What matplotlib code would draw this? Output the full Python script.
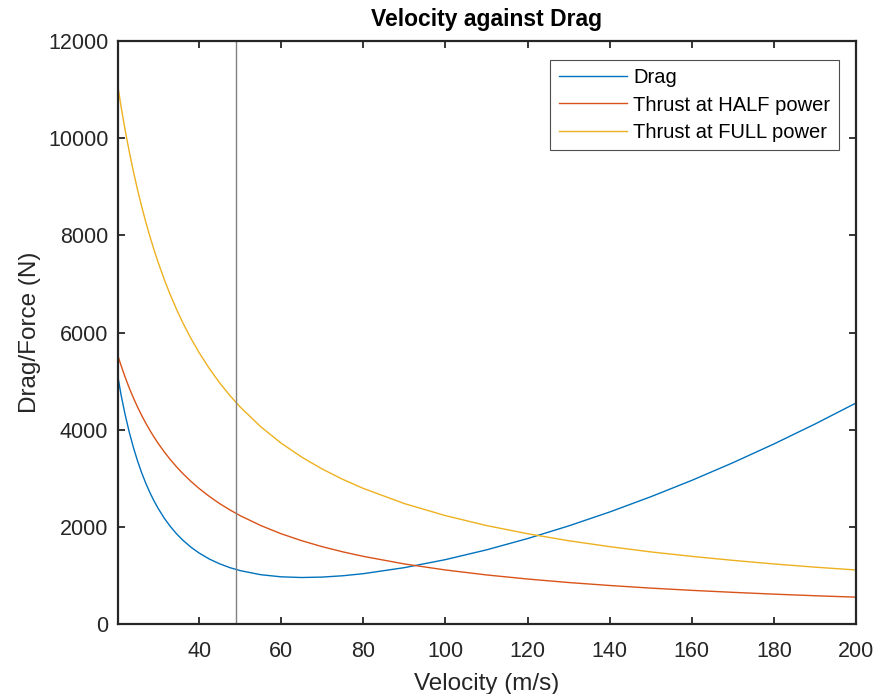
import matplotlib
matplotlib.use('Agg')
import matplotlib.pyplot as plt

plt.rcParams['font.family'] = ['Liberation Sans', 'DejaVu Sans']

# values
velocity = [20.3, 21, 22, 23, 24, 25, 26, 27, 28, 29, 30, 31.5, 33, 34.5, 36, 38,
            40, 42.5, 45, 47.5, 50, 55, 60, 65, 70, 75, 80, 90, 100, 110, 120,
            130, 140, 150, 160, 170, 180, 190, 200]
drag = [5060, 4718, 4308, 3951, 3639, 3364, 3121, 2906, 2714, 2542, 2389, 2186,
        2013, 1863, 1734, 1588, 1467, 1343, 1245, 1166, 1105, 1021, 977, 963,
        972, 999, 1042, 1166, 1331, 1532, 1764, 2024, 2311, 2624, 2961, 3324,
        3710, 4120, 4553]
thrust_half = [5505, 5324, 5082, 4861, 4658, 4472, 4300, 4141, 3993, 3855, 3727,
               3549, 3388, 3241, 3105, 2942, 2795, 2631, 2484, 2354, 2236, 2033,
               1863, 1720, 1597, 1491, 1398, 1242, 1118, 1016, 932, 860, 799,
               745, 699, 658, 621, 588, 559]
thrust_full = [11030, 10648, 10164, 9722, 9316, 8944, 8600, 8282, 7986, 7710,
               7454, 7098, 6776, 6482, 6210, 5884, 5590, 5262, 4968, 4708, 4472,
               4066, 3726, 3440, 3194, 2982, 2796, 2484, 2236, 2032, 1864, 1720,
               1598, 1490, 1398, 1316, 1242, 1176, 1118]
stall_speed = 48.9

axis_col = '#262626'

fig = plt.figure(figsize=(8.75, 6.94), dpi=100)
ax = fig.add_axes([0.1349, 0.1004, 0.8434, 0.8405])

ax.plot(velocity, drag, color='#0072BD', lw=1.0, label='Drag')
ax.plot(velocity, thrust_half, color='#D95319', lw=1.0, label='Thrust at HALF power')
ax.plot(velocity, thrust_full, color='#EDB120', lw=1.0, label='Thrust at FULL power')
ax.axvline(stall_speed, color='#808080', lw=1.0)

ax.set_xlim(20.26, 200)
ax.set_ylim(0, 12000)
ax.set_xticks(range(40, 201, 20))
ax.set_yticks(range(0, 12001, 2000))

ax.tick_params(direction='in', length=5, width=1.3, top=True, right=True,
               labelsize=15.5, colors=axis_col)
ax.tick_params(axis='x', pad=12)
ax.tick_params(axis='y', pad=7)
for s in ax.spines.values():
    s.set_linewidth(1.6)
    s.set_color(axis_col)

ax.set_title('Velocity against Drag', fontsize=16.5, fontweight='bold', pad=11)
ax.set_xlabel('Velocity (m/s)', fontsize=17.5, color=axis_col, labelpad=8)
ax.set_ylabel('Drag/Force (N)', fontsize=17.5, color=axis_col, labelpad=5)

leg = ax.legend(loc='upper right', bbox_to_anchor=(0.977, 0.9674), borderaxespad=0,
                fontsize=14.5, fancybox=False, framealpha=1, handlelength=3.4,
                handletextpad=0.3, labelspacing=0.4, borderpad=0.42)
leg.get_frame().set_edgecolor('#4d4d4d')
leg.get_frame().set_linewidth(0.8)

fig.savefig('out.png', dpi=100)
